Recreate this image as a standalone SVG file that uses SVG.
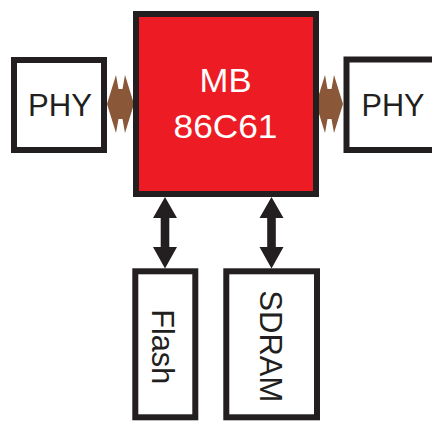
<svg xmlns="http://www.w3.org/2000/svg" width="432" height="422" viewBox="0 0 432 422">
<style>
.box{fill:#ffffff;stroke:#231f20;stroke-width:6}
.chip{fill:#ed1c24;stroke:#231f20;stroke-width:6}
.lbl{font-family:"Liberation Sans",Arial,sans-serif;fill:#231f20;text-anchor:middle}
.wlbl{font-family:"Liberation Sans",Arial,sans-serif;fill:#ffffff;text-anchor:middle;font-size:33px}
.bus{fill:#8a5738}
.arr{fill:#231f20}
</style>
<rect width="432" height="422" fill="#ffffff"/>
<g id="connectors">
<polygon class="bus" points="107,104 116,75 118.5,89 122.5,89 125,75 134,104 125,133 122.5,119 118.5,119 116,133"/>
<polygon class="bus" points="316,104 325,75 327.5,89 331.5,89 334,75 343,104 334,133 331.5,119 327.5,119 325,133"/>
<polygon class="arr" points="165,197 177,218 169.3,218 169.3,247 177,247 165,268.5 153,247 160.7,247 160.7,218 153,218"/>
<polygon class="arr" points="271.5,197 283.5,218 275.8,218 275.8,247 283.5,247 271.5,268.5 259.5,247 267.2,247 267.2,218 259.5,218"/>
</g>
<g id="mb86c61">
<rect class="chip" x="136" y="14" width="180" height="180"/>
<text class="wlbl" x="225.5" y="92.3" textLength="52" lengthAdjust="spacingAndGlyphs">MB</text>
<text class="wlbl" x="225.5" y="137.7" textLength="104" lengthAdjust="spacingAndGlyphs">86C61</text>
</g>
<g id="phy-left">
<rect class="box" x="14" y="60" width="90" height="90"/>
<text class="lbl" x="60" y="116" font-size="31" textLength="64" lengthAdjust="spacingAndGlyphs">PHY</text>
</g>
<g id="phy-right">
<rect class="box" x="346.5" y="59.5" width="100" height="90.5"/>
<text class="lbl" x="393" y="116" font-size="31" textLength="63" lengthAdjust="spacingAndGlyphs">PHY</text>
</g>
<g id="flash">
<rect class="box" x="135.3" y="271.3" width="60" height="146"/>
<text class="lbl" font-size="30.5" transform="translate(151.7,346.7) rotate(90)" textLength="75" lengthAdjust="spacingAndGlyphs">Flash</text>
</g>
<g id="sdram">
<rect class="box" x="226.3" y="271.3" width="90.7" height="146"/>
<text class="lbl" font-size="31" transform="translate(260,346.3) rotate(90)" textLength="112" lengthAdjust="spacingAndGlyphs">SDRAM</text>
</g>
</svg>
